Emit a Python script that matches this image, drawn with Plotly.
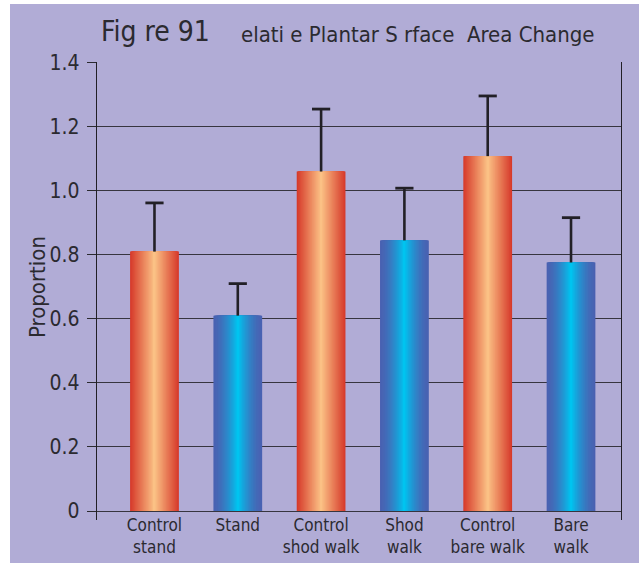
import plotly.graph_objects as go

# ---- data ----
categories = ["Control<br>stand", "Stand", "Control<br>shod walk", "Shod<br>walk",
              "Control<br>bare walk", "Bare<br>walk"]
proportion = [0.81, 0.61, 1.06, 0.845, 1.108, 0.776]
error_up = [0.152, 0.10, 0.195, 0.163, 0.188, 0.14]
group = ["control", "test", "control", "test", "control", "test"]
y_tick_vals = [0, 0.2, 0.4, 0.6, 0.8, 1.0, 1.2, 1.4]
y_tick_text = ["0", "0.2", "0.4", "0.6", "0.8", "1.0", "1.2", "1.4"]
title_a = "Fig re 91"
title_b = "elati e Plantar S rface  Area Change"
y_title = "Proportion"

# ---- style ----
W, H = 639, 563
ML, MR, MT, MB = 97, 18, 62, 43
FONT = "DejaVu Sans Condensed, Liberation Sans Narrow, Arial Narrow, sans-serif"
TXT = "#2b2a30"
BG = "#b1acd6"
ERR = "#222026"

grad = {
    "control": ((214, 58, 43), (251, 193, 133)),
    "test": ((74, 98, 178), (0, 196, 240)),
}
gamma = {"control": 1.0, "test": 1.6}

def mix(c0, c1, t):
    return "rgb(%d,%d,%d)" % tuple(round(a + (b - a) * t) for a, b in zip(c0, c1))

BAR_W = 0.585
N = 40

fig = go.Figure()
for k in range(N):
    t = k / (N - 1)
    colors = [mix(grad[g][0], grad[g][1], t ** gamma[g]) for g in group]
    fig.add_trace(go.Bar(
        x=categories, y=proportion, width=BAR_W * (1 - k / N),
        marker=dict(color=colors, line=dict(width=0)),
        hoverinfo="skip", showlegend=False,
    ))

# error bar stems (upper only) and caps
stem_x, stem_y = [], []
for c, v, e in zip(categories, proportion, error_up):
    stem_x += [c, c, None]
    stem_y += [v, v + e, None]
fig.add_trace(go.Scatter(
    x=stem_x, y=stem_y, mode="lines", line=dict(color=ERR, width=2.6),
    showlegend=False, hoverinfo="skip",
))
fig.add_trace(go.Scatter(
    x=categories, y=[v + e for v, e in zip(proportion, error_up)], mode="markers",
    marker=dict(symbol="line-ew", size=13, line=dict(color=ERR, width=2.8)),
    showlegend=False, hoverinfo="skip",
))

pw = W - ML - MR
ph = H - MT - MB

def px_x(px):
    return (px - ML) / pw

def px_y(py):
    return (H - MB - py) / ph

fig.update_layout(
    width=W, height=H,
    margin=dict(l=ML, r=MR, t=MT, b=MB, pad=0, autoexpand=False),
    paper_bgcolor="white",
    plot_bgcolor=BG,
    barmode="overlay",
    showlegend=False,
    font=dict(family=FONT, color=TXT),
    shapes=[dict(type="rect", xref="paper", yref="paper", layer="below",
                 x0=px_x(10), x1=px_x(W + 2), y0=px_y(H + 2), y1=px_y(4),
                 fillcolor=BG, line=dict(width=0))],
    annotations=[
        dict(text=title_a, xref="paper", yref="paper", x=px_x(99), y=px_y(31),
             xanchor="left", yanchor="middle", showarrow=False,
             font=dict(size=28, family=FONT, color=TXT)),
        dict(text=title_b, xref="paper", yref="paper", x=px_x(239), y=px_y(34),
             xanchor="left", yanchor="middle", showarrow=False,
             font=dict(size=22, family=FONT, color=TXT)),
        dict(text=y_title, xref="paper", yref="paper", x=px_x(37), y=px_y(287),
             xanchor="center", yanchor="middle", textangle=-90, showarrow=False,
             font=dict(size=22, family=FONT, color=TXT)),
    ],
)

fig.update_yaxes(
    range=[-0.028, 1.402], tickvals=y_tick_vals, ticktext=y_tick_text,
    ticks="outside", ticklen=9, tickwidth=1.2, tickcolor="#2b2a30",
    showline=True, mirror=True, linecolor="#222026", linewidth=1.4,
    showgrid=True, gridcolor="#37353f", gridwidth=1.4, zeroline=False,
    tickfont=dict(size=21, family=FONT, color=TXT), ticklabelstandoff=3,
    automargin=False,
)
fig.update_xaxes(
    range=[-0.69, 5.60], showline=False, showgrid=False, zeroline=False,
    ticks="", tickfont=dict(size=17, family=FONT, color=TXT),
    ticklabelstandoff=-7, automargin=False,
)

fig.write_html("out.html", config={"displayModeBar": False},
               post_script="document.body.style.margin='0';document.body.style.overflow='hidden';")
